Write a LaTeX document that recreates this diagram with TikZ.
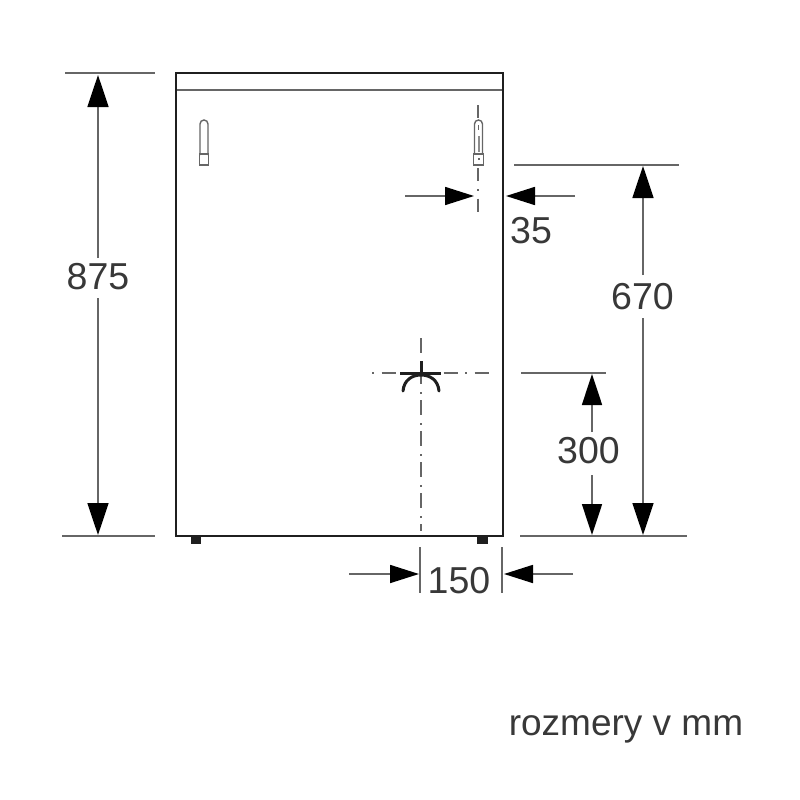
\documentclass[tikz,border=0pt]{standalone}
\usepackage{fontspec}
\setmainfont{Liberation Sans}
\usetikzlibrary{arrows.meta}
\definecolor{ln}{gray}{0.40}
\definecolor{dk}{gray}{0.12}
\definecolor{txt}{gray}{0.22}
\tikzset{
  extline/.style={draw=ln,line width=1.7pt},
  dimv/.style={draw=ln,line width=1.7pt,-{Triangle[length=32pt,width=21pt,color=black]}},
  dimh/.style={draw=ln,line width=1.7pt,-{Triangle[length=29pt,width=18pt,color=black]}},
  dimtall/.style={draw=ln,line width=1.7pt,-{Triangle[length=31pt,width=20pt,color=black]}},
  cline/.style={draw=ln,line width=1.6pt},
  body/.style={draw=dk,line width=2.6pt,outer sep=0pt},
  hinge/.style={draw=ln,line width=1.4pt,outer sep=0pt},
  heavy/.style={draw=dk,line width=3pt},
  foot/.style={fill=dk,draw=none},
  num/.style={font=\fontsize{37.5}{37.5}\selectfont,text=txt,inner sep=0pt},
  captext/.style={font=\fontsize{37}{37}\selectfont,text=txt,inner sep=0pt}
}
\begin{document}
\begin{tikzpicture}[x=1pt,y=-1pt]
\useasboundingbox (0,0) rectangle (800,800);
% cabinet
\node[body,rectangle,inner sep=0pt,anchor=north west,minimum width=327pt,minimum height=463pt] (cab) at (176,73) {};
\draw[draw=ln,line width=2pt] (177,90) -- (502,90);
\node[foot,minimum width=10pt,minimum height=7pt,inner sep=0pt,anchor=north] (footl) at (196,537) {};
\node[foot,minimum width=11pt,minimum height=7pt,inner sep=0pt,anchor=north] (footr) at (482,537) {};
% hinges
\draw[hinge] (200,155) -- (200,124) arc[start angle=180,end angle=0,radius=4pt] -- (208,155);
\node[hinge,rectangle,inner sep=0pt,minimum width=9pt,minimum height=11pt,anchor=north west] (hl) at (199.5,154) {};
\draw[hinge] (474.5,154) -- (474.5,124) arc[start angle=180,end angle=0,radius=4pt] -- (482.5,154);
\draw[hinge,line width=2pt,draw=ln!75] (478.5,136) -- (478.5,152);
\draw[hinge,line width=1.5pt] (478.5,125) -- (478.5,130);
\node[hinge,rectangle,inner sep=0pt,minimum width=10pt,minimum height=11pt,anchor=north west] (hr) at (473.5,154) {};
\node[fill=ln,inner sep=0pt,minimum size=2pt] (hrdot) at (478.5,159) {};
% centre lines
\draw[cline] (478,105) -- (478,118);
\draw[cline,dash pattern=on 13pt off 8pt on 1.5pt off 8pt on 14pt off 100pt] (478,168) -- (478,212);
\coordinate (cv1) at (421,338);
\coordinate (cv2) at (421,531);
\coordinate (ch1) at (372,373);
\coordinate (ch2) at (490,373);
\draw[cline,dash pattern=on 15pt off 8pt on 1.5pt off 6.5pt] (cv1) -- (cv2);
\draw[cline,dash pattern=on 1.5pt off 8pt on 14pt off 7.5pt] (ch1) -- (ch2);
% connection symbol
\draw[heavy] (400,373) -- (441,373);
\draw[heavy] (421,361) -- (421,373);
\draw[heavy,line cap=round] (403,391) .. controls (404,380) and (412,375) .. (421,375) .. controls (430,375) and (438,380) .. (439,391);
% extension lines
\coordinate (a1) at (65,73); \coordinate (a2) at (155,73);
\coordinate (b1) at (62,536); \coordinate (b2) at (155,536);
\coordinate (c1) at (514,165); \coordinate (c2) at (679,165);
\coordinate (d1) at (520,536); \coordinate (d2) at (687,536);
\coordinate (e1) at (521,373); \coordinate (e2) at (606,373);
\coordinate (f1) at (420,547); \coordinate (f2) at (420,593);
\coordinate (g1) at (502,547); \coordinate (g2) at (502,593);
\draw[extline] (a1) -- (a2);
\draw[extline] (b1) -- (b2);
\draw[extline] (c1) -- (c2);
\draw[extline] (d1) -- (d2);
\draw[extline] (e1) -- (e2);
\draw[extline] (f1) -- (f2);
\draw[extline] (g1) -- (g2);
% labels
\node[num] (t875) at (98,277) {875};
\node[num] (t670) at (642.5,297) {670};
\node[num] (t300) at (588.5,451) {300};
\node[num] (t35) at (531,231) {35};
\node[num] (t150) at (459,581) {150};
\node[captext] (tcap) at (626,729) {rozmery v mm};
% dimension 875
\coordinate (p1) at (98,258); \coordinate (p2) at (98,75);
\coordinate (p3) at (98,298); \coordinate (p4) at (98,535);
\draw[dimv] (p1) -- (p2);
\draw[dimv] (p3) -- (p4);
% dimension 670
\coordinate (q1) at (643,275); \coordinate (q2) at (643,166);
\coordinate (q3) at (643,318); \coordinate (q4) at (643,535);
\draw[dimv] (q1) -- (q2);
\draw[dimv] (q3) -- (q4);
% dimension 300
\coordinate (r1) at (592,432); \coordinate (r2) at (592,374);
\coordinate (r3) at (592,475); \coordinate (r4) at (592,535);
\draw[dimtall] (r1) -- (r2);
\draw[dimtall] (r3) -- (r4);
% dimension 35
\coordinate (s1) at (405,196); \coordinate (s2) at (474,196);
\coordinate (s3) at (575,196); \coordinate (s4) at (506,196);
\draw[dimh] (s1) -- (s2);
\draw[dimh] (s3) -- (s4);
% dimension 150
\coordinate (u1) at (349,574); \coordinate (u2) at (419,574);
\coordinate (u3) at (573,574); \coordinate (u4) at (504,574);
\draw[dimh] (u1) -- (u2);
\draw[dimh] (u3) -- (u4);
\end{tikzpicture}
\end{document}
